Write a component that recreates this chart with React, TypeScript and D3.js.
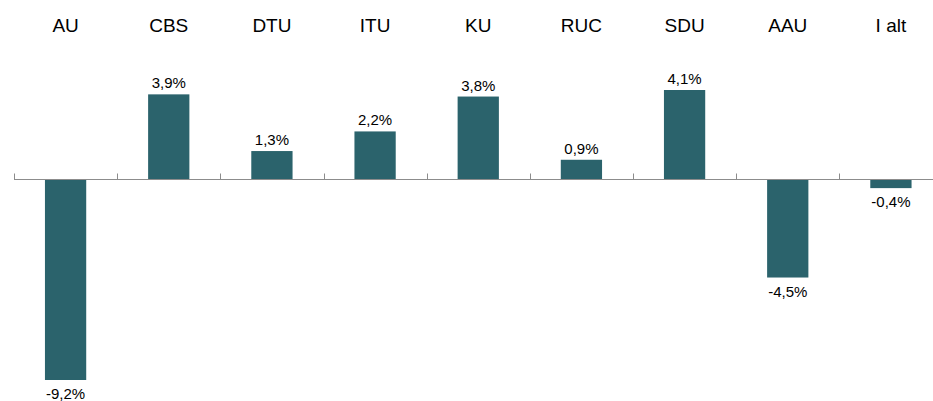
import React, { useEffect, useRef } from 'react';
import * as d3 from 'd3';

const categories = ['AU', 'CBS', 'DTU', 'ITU', 'KU', 'RUC', 'SDU', 'AAU', 'I alt'];
const values = [-9.2, 3.9, 1.3, 2.2, 3.8, 0.9, 4.1, -4.5, -0.4];
const valueLabels = ['-9,2%', '3,9%', '1,3%', '2,2%', '3,8%', '0,9%', '4,1%', '-4,5%', '-0,4%'];

const W = 933;
const H = 401;

const App = () => {
  const svgRef = useRef<SVGSVGElement>(null);

  useEffect(() => {
    document.body.style.margin = '0';
    const svg = d3.select(svgRef.current);
    svg.selectAll('*').remove();

    const x = d3.scaleBand<string>()
      .domain(categories)
      .range([14, 942.5])
      .paddingInner(0.6)
      .paddingOuter(0.3);

    const y = d3.scaleLinear()
      .domain([d3.min(values)!, d3.max(values)!])
      .range([380, 90]);

    const font = 'Liberation Sans, Arial, sans-serif';
    const gap = (x.step() - x.bandwidth()) / 2;
    const y0 = Math.round(y(0)) + 0.5;

    // category labels along the top
    svg.append('g')
      .selectAll('text')
      .data(categories)
      .enter()
      .append('text')
      .attr('x', d => x(d)! + x.bandwidth() / 2)
      .attr('y', 31.5)
      .attr('text-anchor', 'middle')
      .style('font-family', font)
      .style('font-size', '19px')
      .style('fill', '#000')
      .text(d => d);

    // bars
    svg.append('g')
      .selectAll('rect')
      .data(values)
      .enter()
      .append('rect')
      .attr('x', (d, i) => x(categories[i])!)
      .attr('y', d => y(Math.max(0, d)))
      .attr('width', x.bandwidth())
      .attr('height', d => Math.abs(y(d) - y(0)))
      .attr('fill', '#2b636c');

    // zero axis with ticks
    const axis = svg.append('g');
    axis.append('line')
      .attr('x1', 14)
      .attr('x2', W)
      .attr('y1', y0)
      .attr('y2', y0)
      .attr('stroke', '#8c8c8c')
      .attr('stroke-width', 1);

    axis.selectAll('.tick')
      .data(categories)
      .enter()
      .append('line')
      .attr('class', 'tick')
      .attr('x1', d => Math.round(x(d)! - gap) + 0.5)
      .attr('x2', d => Math.round(x(d)! - gap) + 0.5)
      .attr('y1', y0 - 6)
      .attr('y2', y0)
      .attr('stroke', '#8c8c8c')
      .attr('stroke-width', 1);

    // value labels
    svg.append('g')
      .selectAll('text')
      .data(values)
      .enter()
      .append('text')
      .attr('x', (d, i) => x(categories[i])! + x.bandwidth() / 2)
      .attr('y', d => (d >= 0 ? y(d) - 6 : y(d) + 19))
      .attr('text-anchor', 'middle')
      .style('font-family', font)
      .style('font-size', '15px')
      .style('fill', '#000')
      .text((d, i) => valueLabels[i]);
  }, []);

  return <svg ref={svgRef} width={W} height={H} style={{ display: 'block' }} />;
};

export default App;
